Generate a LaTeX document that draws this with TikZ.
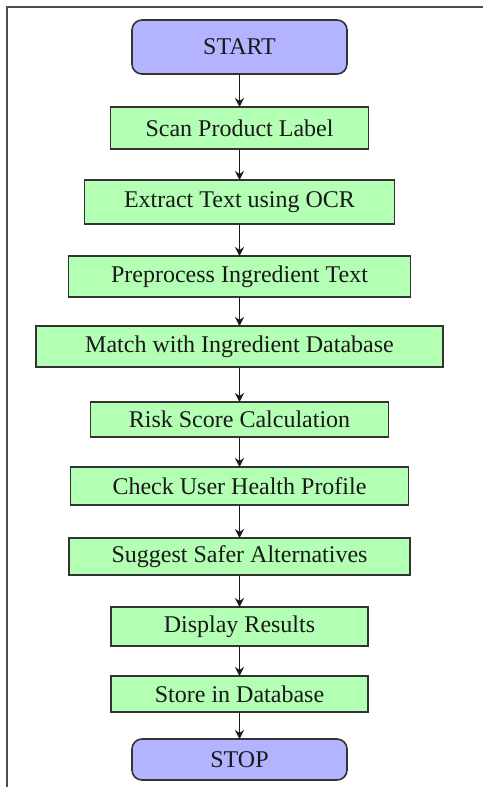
\documentclass[tikz,border=0pt]{standalone}
\usepackage{fontspec}
\setmainfont{Liberation Serif}
\usetikzlibrary{arrows.meta}

\definecolor{termfill}{HTML}{B3B3FF}
\definecolor{stepfill}{HTML}{B3FFB3}
\definecolor{edgegray}{HTML}{333333}
\definecolor{framegray}{HTML}{4D4D4D}

\tikzset{
  base/.style={draw=edgegray, line width=1.6pt, inner sep=0pt, outer sep=0pt,
               font=\fontsize{24}{28}\selectfont, text=black!90},
  terminal/.style={base, fill=termfill, rounded corners=10pt},
  stepbox/.style={base, fill=stepfill},
  flow/.style={draw=black!90, line width=1.4pt, -{Stealth[length=9pt,width=9pt]}},
}

\begin{document}
\begin{tikzpicture}[x=1pt, y=-1pt]
  \useasboundingbox (0,0) rectangle (483,787);

  % frame along the top and left edges
  \draw[framegray, line width=2.2pt] (483,7) -- (7,7) -- (7,787);

  % flowchart steps
  \node[terminal, minimum width=215pt, minimum height=54pt] (start)   at (239.5,47)    {START};
  \node[stepbox,  minimum width=258pt, minimum height=42pt] (scan)    at (239.5,128)   {Scan Product Label};
  \node[stepbox,  minimum width=310pt, minimum height=44pt] (ocr)     at (239.5,202)   {Extract Text using OCR};
  \node[stepbox,  minimum width=342pt, minimum height=41pt] (prep)    at (239.5,276.5) {Preprocess Ingredient Text};
  \node[stepbox,  minimum width=407pt, minimum height=41pt] (match)   at (239.5,346.5) {Match with Ingredient Database};
  \node[stepbox,  minimum width=298pt, minimum height=35pt] (risk)    at (239.5,419.5) {Risk Score Calculation};
  \node[stepbox,  minimum width=338pt, minimum height=38pt] (profile) at (239.5,486)   {Check User Health Profile};
  \node[stepbox,  minimum width=341pt, minimum height=37pt] (suggest) at (239.5,556.5) {Suggest Safer Alternatives};
  \node[stepbox,  minimum width=257pt, minimum height=39pt] (display) at (239.5,626.5) {Display Results};
  \node[stepbox,  minimum width=257pt, minimum height=36pt] (store)   at (239.5,694)   {Store in Database};
  \node[terminal, minimum width=215pt, minimum height=41pt] (stop)    at (239.5,759.5) {STOP};

  % connectors
  \foreach \a/\b in {start/scan, scan/ocr, ocr/prep, prep/match, match/risk,
                     risk/profile, profile/suggest, suggest/display,
                     display/store, store/stop}
    \draw[flow] (\a.south) -- (\b.north);
\end{tikzpicture}
\end{document}
